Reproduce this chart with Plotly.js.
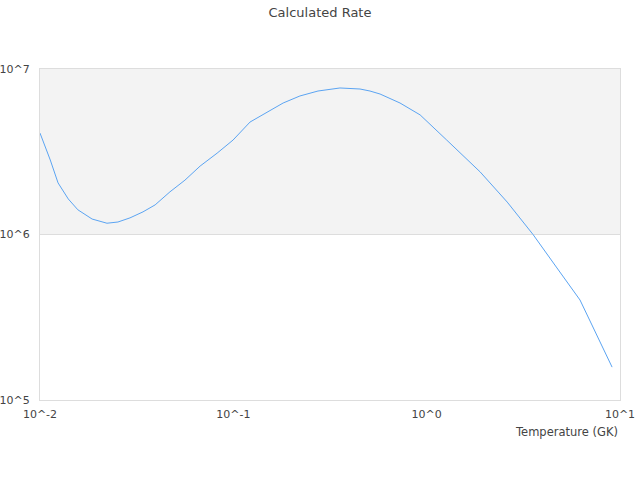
<!DOCTYPE html>
<html>
<head>
<meta charset="utf-8">
<script src="https://cdn.plot.ly/plotly-3.0.1.min.js"></script>
<style>
  body { margin: 0; }
  #graph { width: 640px; height: 480px; }
</style>
</head>
<body>
<div id="graph"></div>
<script>
//temperatures (GK) and rates
const temperature = [0.01, 0.0113, 0.0124, 0.0140, 0.0157, 0.0186, 0.0222, 0.0253, 0.0292, 0.0341,
  0.0394, 0.0470, 0.0562, 0.0673, 0.0824, 0.0996, 0.122, 0.149, 0.181, 0.221,
  0.274, 0.356, 0.452, 0.509, 0.574, 0.728, 0.925, 1.27, 1.89, 2.61,
  3.55, 4.72, 6.21, 7.16, 9.10]
const rate = [4.1e6, 2.82e6, 2.05e6, 1.64e6, 1.41e6, 1.24e6, 1.17e6, 1.19e6, 1.26e6, 1.37e6,
  1.51e6, 1.81e6, 2.13e6, 2.59e6, 3.10e6, 3.72e6, 4.78e6, 5.50e6, 6.23e6, 6.87e6,
  7.36e6, 7.68e6, 7.57e6, 7.36e6, 7.06e6, 6.23e6, 5.28e6, 3.72e6, 2.39e6, 1.57e6,
  1.0e6, 6.28e5, 4.02e5, 2.84e5, 1.58e5]

//tick labels
const xTickVals = [0.01, 0.1, 1, 10]
const xTickText = ['10^-2', '10^-1', '10^0', '10^1']
const yTickVals = [1e5, 1e6, 1e7]
const yTickText = ['10^5', '10^6', '10^7']

//shaded band limits
const bandLow = 1e6
const bandHigh = 1e7

const trace = {
  x: temperature,
  y: rate,
  type: 'scatter',
  mode: 'lines',
  line: {color: '#5ba4f2', width: 1},
  hoverinfo: 'x+y'
}

const layout = {
  width: 640,
  height: 480,
  font: {family: 'DejaVu Sans', size: 11, color: '#444'},
  title: {
    text: 'Calculated Rate',
    font: {family: 'DejaVu Sans', size: 13, color: '#444'},
    x: 0.5,
    xanchor: 'center',
    y: 0.975,
    yanchor: 'middle'
  },
  showlegend: false,
  margin: {l: 40, r: 20, t: 69, b: 80, pad: 0},
  paper_bgcolor: '#fff',
  plot_bgcolor: '#fff',
  xaxis: {
    type: 'log',
    range: [-2, 1],
    tickvals: xTickVals,
    ticktext: xTickText,
    showgrid: false,
    showline: true,
    mirror: true,
    linecolor: '#dddddd',
    zeroline: false,
    ticks: 'outside',
    ticklen: 4,
    tickcolor: 'rgba(0,0,0,0)'
  },
  yaxis: {
    type: 'log',
    range: [5, 7],
    tickvals: yTickVals,
    ticktext: yTickText,
    showgrid: true,
    gridcolor: '#dddddd',
    showline: true,
    mirror: true,
    linecolor: '#dddddd',
    zeroline: false,
    ticks: 'outside',
    ticklen: 7,
    tickcolor: 'rgba(0,0,0,0)'
  },
  shapes: [{
    type: 'rect',
    xref: 'paper',
    yref: 'y',
    x0: 0,
    x1: 1,
    y0: bandLow,
    y1: bandHigh,
    fillcolor: '#f3f3f3',
    line: {width: 0},
    layer: 'below'
  }],
  annotations: [{
    text: 'Temperature (GK)',
    xref: 'paper',
    yref: 'paper',
    x: 1,
    y: 0,
    xanchor: 'right',
    yanchor: 'top',
    yshift: -23,
    showarrow: false,
    font: {family: 'DejaVu Sans', size: 11.5, color: '#444'}
  }]
}

const config = {displayModeBar: false, responsive: false}

Plotly.newPlot(document.getElementById('graph'), [trace], layout, config)
</script>
</body>
</html>
